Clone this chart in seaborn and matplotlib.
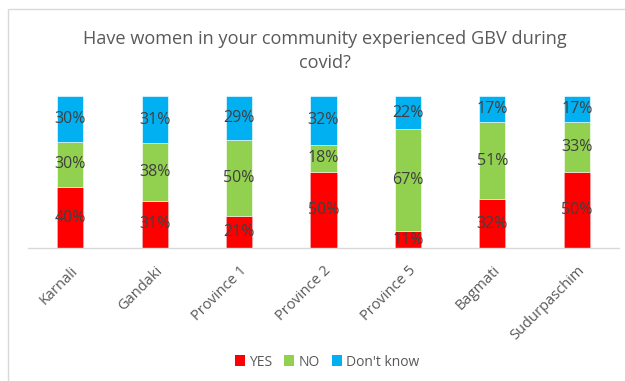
import matplotlib
matplotlib.use("Agg")
import matplotlib.pyplot as plt
import seaborn as sns
import pandas as pd
import numpy as np
from matplotlib.patches import Rectangle, Patch

categories = ["Karnali", "Gandaki", "Province 1", "Province 2", "Province 5", "Bagmati", "Sudurpaschim"]
yes_vals = [40, 31, 21, 50, 11, 32, 50]
no_vals = [30, 38, 50, 18, 67, 51, 33]
dk_vals = [30, 31, 29, 32, 22, 17, 17]
series_names = ["YES", "NO", "Don't know"]
colors = ["#FF0000", "#92D050", "#00B0F0"]
title = "Have women in your community experienced GBV during\ncovid?"

sns.set_theme(style="white")
plt.rcParams["font.family"] = ["Open Sans", "DejaVu Sans"]

fig = plt.figure(figsize=(6.25, 3.81), dpi=100)
W, H = 625, 381
ax = fig.add_axes([28 / W, 1 - 248 / H, (619 - 28) / W, (248 - 96) / H])

df = pd.DataFrame({"cat": categories, "YES": yes_vals, "NO": no_vals, "Don't know": dk_vals})
bottom = np.zeros(len(categories))
for name, col in zip(series_names, colors):
    vals = np.array(df[name], dtype=float)
    sns.barplot(x="cat", y=name, data=df, color=col, width=0.31, bottom=bottom,
                ax=ax, edgecolor="#f4b8b8" if name == "YES" else "white", linewidth=0.4,
                saturation=1, errorbar=None)
    cont = ax.containers[-1]
    ax.bar_label(cont, labels=[f"{int(v)}%" for v in vals], label_type="center",
                 fontsize=11.5, color="#404040")
    bottom = bottom + vals

ax.set_ylim(0, 100)
ax.set_xlim(-0.5, len(categories) - 0.5)
ax.set_xlabel("")
ax.set_ylabel("")
ax.set_yticks([])
for s in ["top", "right", "left"]:
    ax.spines[s].set_visible(False)
ax.spines["bottom"].set_color("#d9d9d9")
ax.spines["bottom"].set_linewidth(1.0)
ax.tick_params(axis="x", length=0, pad=11)
ax.set_xticks(range(len(categories)))
ax.set_xticklabels(categories, rotation=45, ha="right", rotation_mode="anchor",
                   fontsize=10.5, color="#595959")

fig.text(325 / W, 1 - 51 / H, title, ha="center", va="center", fontsize=13.1,
         color="#595959", linespacing=1.45)

handles = [Patch(facecolor=c, edgecolor="none") for c in colors]
fig.legend(handles, series_names, loc="center", bbox_to_anchor=(327 / W, 1 - 362 / H),
           ncol=3, frameon=False, fontsize=10, handlelength=0.7, handleheight=0.8,
           handletextpad=0.3, columnspacing=0.9, labelcolor="#595959")

fig.patches.append(Rectangle((8 / W, -0.05), 1.1, 1 - 9 / H + 0.05, transform=fig.transFigure,
                             fill=False, edgecolor="#d9d9d9", linewidth=1.0))

fig.savefig("out.png", dpi=100)
